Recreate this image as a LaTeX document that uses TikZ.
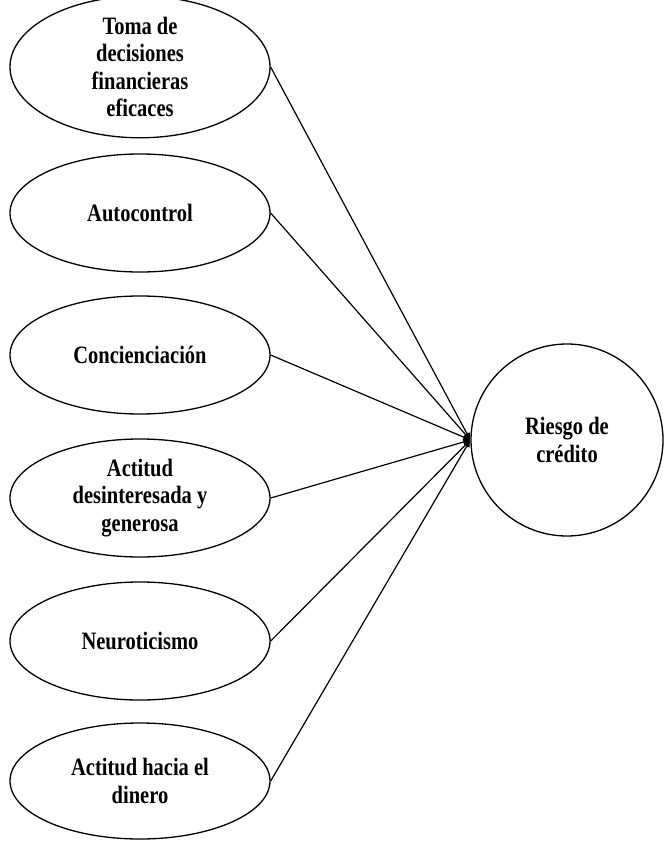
\documentclass[tikz,border=0pt]{standalone}
\usepackage{fontspec}
\usetikzlibrary{shapes.geometric,arrows.meta}
\newfontfamily\tnr[FakeStretch=0.82]{Liberation Serif}
\begin{document}
\begin{tikzpicture}[x=1pt,y=-1pt,
  lbl/.style={font=\tnr\bfseries\fontsize{25}{27.5}\selectfont, align=center, text=black},
  latent/.style={lbl, draw=black, line width=1.3pt, ellipse, minimum width=260pt, minimum height=118pt, inner sep=0pt},
  outcome/.style={lbl, draw=black, line width=1.3pt, circle, minimum size=192pt, inner sep=0pt},
  conn/.style={draw=black, line width=1.2pt, -{Latex[length=7pt,width=7pt]}}]
\useasboundingbox (0,0) rectangle (665,842);
\node[latent] (e1) at (140,67) {Toma de\\decisiones\\financieras\\eficaces};
\node[latent] (e2) at (140,213) {Autocontrol};
\node[latent] (e3) at (140,355) {Concienciación};
\node[latent] (e4) at (140,498) {Actitud\\desinteresada y\\generosa};
\node[latent] (e5) at (140,641) {Neuroticismo};
\node[latent, minimum height=116pt] (e6) at (140,781) {Actitud hacia el\\dinero};
\node[outcome] (r) at (567,440) {Riesgo de\\crédito};
\foreach \n in {e1,e2,e3,e4,e5,e6}{
  \draw[conn] (\n.east) -- (r.west);
}
\end{tikzpicture}
\end{document}
